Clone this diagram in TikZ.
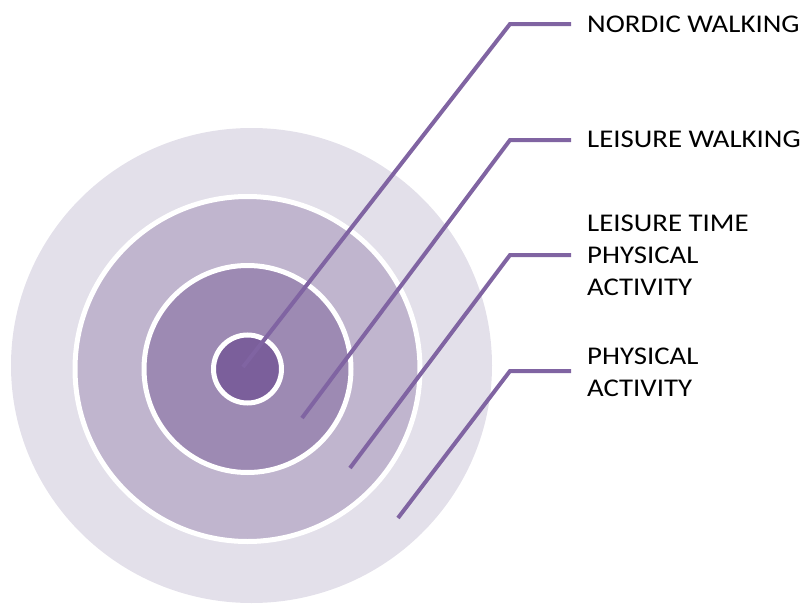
\documentclass[tikz,border=0pt]{standalone}
\usepackage{fontspec}
\setmainfont{Carlito}[FakeStretch=1.13]
\definecolor{ringA}{HTML}{E3E0EA}
\definecolor{ringB}{HTML}{C0B5CE}
\definecolor{ringC}{HTML}{9D8AB3}
\definecolor{ringD}{HTML}{7B5F9B}
\definecolor{leader}{HTML}{8064A2}
\tikzset{
  ring/.style={draw=white, line width=5pt},
  leaderline/.style={draw=leader, line width=4pt, line join=miter},
  lab/.style={anchor=base west, inner sep=0pt, align=left, font=\fontsize{25.5}{32}\selectfont, text=black}
}
\begin{document}
\begin{tikzpicture}[x=1pt, y=-1pt]
\useasboundingbox (0,0) rectangle (807,605);
% rings
\fill[ringA] (251.5,365.5) ellipse [x radius=240.5, y radius=237.5];
\filldraw[ring, fill=ringB] (247.5,369) circle [radius=172.5];
\filldraw[ring, fill=ringC] (247.5,369) circle [radius=103.5];
\filldraw[ring, fill=ringD] (247.5,369) circle [radius=34];
% coordinates
\coordinate (e1) at (243,367);
\coordinate (k1) at (510,24);
\coordinate (h1) at (571,24);
\coordinate (e2) at (302,418);
\coordinate (k2) at (510,140);
\coordinate (h2) at (571,140);
\coordinate (e3) at (350,468);
\coordinate (k3) at (510,255);
\coordinate (h3) at (571,255);
\coordinate (e4) at (398,518);
\coordinate (k4) at (510,371);
\coordinate (h4) at (571,371);
% leaders
\draw[leaderline] (e1) -- (k1) -- (h1);
\draw[leaderline] (e2) -- (k2) -- (h2);
\draw[leaderline] (e3) -- (k3) -- (h3);
\draw[leaderline] (e4) -- (k4) -- (h4);
% labels (anchor at the baseline of the last line)
\node[lab] (l1) at (587,32) {NORDIC WALKING};
\node[lab] (l2) at (587,147) {LEISURE WALKING};
\node[lab] (l3) at (587,295) {LEISURE TIME\\PHYSICAL\\ACTIVITY};
\node[lab] (l4) at (587,396) {PHYSICAL\\ACTIVITY};
\end{tikzpicture}
\end{document}
